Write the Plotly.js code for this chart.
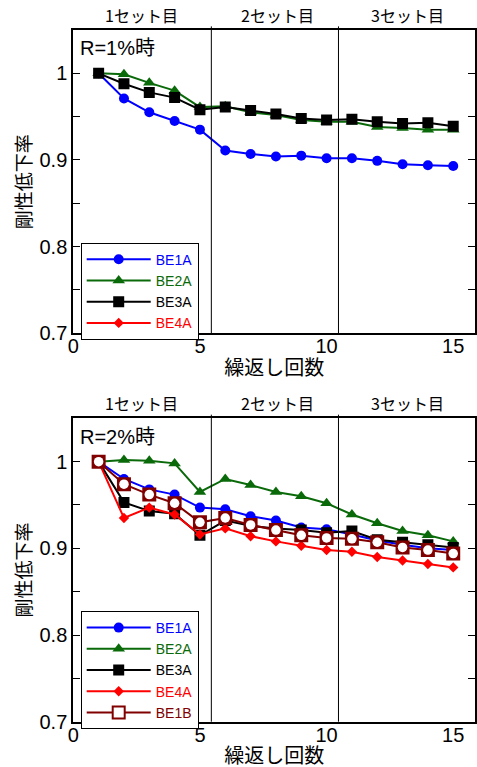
<!DOCTYPE html>
<html>
<head>
<meta charset="utf-8">
<script src="https://cdn.plot.ly/plotly-3.0.1.min.js"></script>
<style>html,body{margin:0;padding:0;background:#fff;}#chart{width:477px;height:767px;}</style>
</head>
<body>
<div id="chart"></div>
<script>
// ---- data ----
const cycles = [1,2,3,4,5,6,7,8,9,10,11,12,13,14,15];
const xTicks = [0, 5, 10, 15];
const yTicks = [0.7, 0.8, 0.9, 1.0];
const setLabels = ['1セット目', '2セット目', '3セット目'];
const setCenters = [2.7, 8.05, 13.2];
const setBounds = [5.45, 10.47];
const panelLabels = ['R=1%時', 'R=2%時'];

// R = 1%
const r1_BE1A = [1.000, 0.971, 0.955, 0.945, 0.935, 0.911, 0.907, 0.904, 0.905, 0.902, 0.902, 0.899, 0.895, 0.894, 0.893];
const r1_BE2A = [1.000, 0.999, 0.989, 0.980, 0.961, 0.962, 0.955, 0.952, 0.946, 0.944, 0.944, 0.938, 0.937, 0.935, 0.935];
const r1_BE3A = [1.000, 0.988, 0.978, 0.972, 0.958, 0.961, 0.957, 0.953, 0.948, 0.946, 0.947, 0.944, 0.942, 0.943, 0.939];
const r1_BE4A = [null, null, null, null, null, null, null, null, null, null, null, null, null, null, null];

// R = 2%
const r2_BE1A = [1.000, 0.980, 0.968, 0.962, 0.947, 0.945, 0.937, 0.932, 0.924, 0.922, 0.916, 0.909, 0.904, 0.900, 0.898];
const r2_BE2A = [1.000, 1.002, 1.001, 0.998, 0.965, 0.980, 0.973, 0.965, 0.960, 0.952, 0.939, 0.929, 0.920, 0.915, 0.908];
const r2_BE3A = [1.000, 0.953, 0.943, 0.940, 0.915, 0.932, 0.926, 0.923, 0.921, 0.918, 0.920, 0.910, 0.907, 0.904, 0.901];
const r2_BE4A = [1.000, 0.935, 0.947, 0.939, 0.916, 0.923, 0.914, 0.908, 0.903, 0.898, 0.896, 0.890, 0.886, 0.882, 0.878];
const r2_BE1B = [1.000, 0.974, 0.962, 0.952, 0.930, 0.935, 0.927, 0.921, 0.915, 0.912, 0.911, 0.907, 0.901, 0.898, 0.894];

// ---- styles ----
const C = {BE1A:'#0000ff', BE2A:'#0a6a0a', BE3A:'#000000', BE4A:'#ff0000', BE1B:'#800000'};
const SYM = {BE1A:'circle', BE2A:'triangle-up', BE3A:'square', BE4A:'diamond'};
const SIZE = {BE1A:10, BE2A:11, BE3A:11, BE4A:8};
const FONT = 'Liberation Sans, Arial, Noto Sans CJK JP, sans-serif';

function nm(key){ return '<span style="color:' + C[key] + '">' + key + '</span>'; }
function tr(key, ys, xa, ya, lg){
  return {x: cycles, y: ys, type:'scatter', mode:'lines+markers', name: nm(key),
    xaxis: xa, yaxis: ya, legend: lg,
    line:{color:C[key], width:2},
    marker:{symbol:SYM[key], size:SIZE[key], color:C[key]}};
}

const data = [
  tr('BE1A', r1_BE1A, 'x', 'y', 'legend'),
  tr('BE2A', r1_BE2A, 'x', 'y', 'legend'),
  tr('BE3A', r1_BE3A, 'x', 'y', 'legend'),
  tr('BE4A', r1_BE4A, 'x', 'y', 'legend'),
  tr('BE1A', r2_BE1A, 'x2', 'y2', 'legend2'),
  tr('BE2A', r2_BE2A, 'x2', 'y2', 'legend2'),
  tr('BE3A', r2_BE3A, 'x2', 'y2', 'legend2'),
  tr('BE4A', r2_BE4A, 'x2', 'y2', 'legend2'),
  {x: cycles, y: r2_BE1B, type:'scatter', mode:'lines+markers', name: nm('BE1B'),
   xaxis:'x2', yaxis:'y2', legend:'legend2',
   line:{color:C.BE1B, width:2},
   marker:{symbol:'square', size:12, color:'#ffffff', line:{color:C.BE1B, width:2}}},
  {x: cycles, y: r2_BE1B, type:'scatter', mode:'markers', showlegend:false,
   xaxis:'x2', yaxis:'y2', hoverinfo:'skip',
   marker:{symbol:'square', size:12, color:C.BE1B}},
  {x: cycles, y: r2_BE1B, type:'scatter', mode:'markers', showlegend:false,
   xaxis:'x2', yaxis:'y2', hoverinfo:'skip',
   marker:{symbol:'circle', size:9.5, color:'#ffffff'}}
];

const W = 477, H = 767;
const xDom = [73.3/W, 475/W];
const yDomTop = [1-333.3/H, 1-30/H];
const yDomBot = [1-721.7/H, 1-418.3/H];

function xAxis(dom, anchor){
  return {domain: dom, anchor: anchor, range:[0, 15.86], tickvals: xTicks, ticktext: xTicks.map(String),
    ticks:'', showgrid:false, zeroline:false, showline:true, linewidth:2, linecolor:'#000', mirror:true,
    ticklabelstandoff:-6,
    tickfont:{size:20, family:FONT, color:'#000'}, automargin:false,
    title:{text:'繰返し回数', font:{size:20, family:FONT, color:'#000'}, standoff:0}};
}
function yAxis(dom, anchor){
  return {domain: dom, anchor: anchor, range:[0.7, 1.05], tickvals: yTicks, ticktext:['0.7','0.8','0.9','1'],
    ticks:'inside', ticklen:7, tickwidth:1, tickcolor:'#000',
    minor:{tickvals:[0.75, 0.85, 0.95], ticks:'inside', ticklen:7, tickwidth:1, tickcolor:'#000', showgrid:false},
    showgrid:false, zeroline:false, showline:true, linewidth:2, linecolor:'#000', mirror:'ticks',
    tickfont:{size:20, family:FONT, color:'#000'}, automargin:false,
    title:{text:'剛性低下率', font:{size:19, family:FONT, color:'#000'}, standoff:3}};
}

const shapes = [];
const annotations = [];
[['x','y'],['x2','y2']].forEach(function(p, i){
  setBounds.forEach(function(b){
    shapes.push({type:'line', xref:p[0], yref:p[1]+' domain', x0:b, x1:b, y0:0, y1:1.012,
      line:{color:'#000', width:1}});
  });
  setLabels.forEach(function(t, j){
    annotations.push({text:t, xref:p[0], yref:p[1]+' domain', x:setCenters[j], y:1.05,
      xanchor:'center', yanchor:'middle', showarrow:false,
      font:{size:16, family:'Noto Sans CJK JP, sans-serif', color:'#000'}});
  });
  annotations.push({text:panelLabels[i], xref:p[0]+' domain', yref:p[1]+' domain', x:0.012, y:0.94,
    xanchor:'left', yanchor:'middle', showarrow:false,
    font:{size:20, family:FONT, color:'#000'}});
});

const legendBase = {xanchor:'left', yanchor:'top', bgcolor:'#fff', bordercolor:'#000', borderwidth:1,
  font:{size:14, family:FONT}, itemwidth:64, tracegroupgap:0, traceorder:'normal'};

const layout = {
  width: W, height: H, margin:{l:0, r:0, t:0, b:0},
  paper_bgcolor:'#fff', plot_bgcolor:'#fff',
  font:{family:FONT, color:'#000'},
  showlegend:true,
  xaxis: xAxis(xDom, 'y'), yaxis: yAxis(yDomTop, 'x'),
  xaxis2: xAxis(xDom, 'y2'), yaxis2: yAxis(yDomBot, 'x2'),
  legend: Object.assign({}, legendBase, {x: 80.7/W, y: 1-242.7/H}),
  legend2: Object.assign({}, legendBase, {x: 80.7/W, y: 1-611/H}),
  shapes: shapes, annotations: annotations
};

Plotly.newPlot('chart', data, layout, {staticPlot:true, displayModeBar:false});
</script>
</body>
</html>
